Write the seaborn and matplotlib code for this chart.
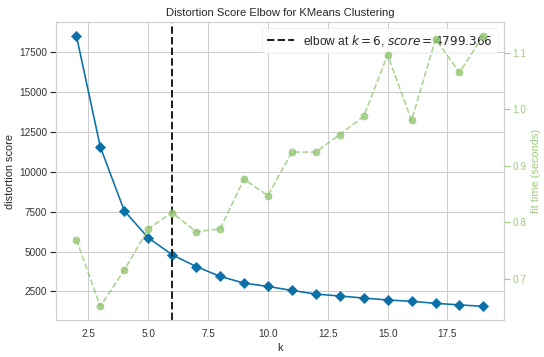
import matplotlib
matplotlib.use("Agg")
import matplotlib.pyplot as plt
import seaborn as sns
import pandas as pd

# Values
k_values = [2, 3, 4, 5, 6, 7, 8, 9, 10, 11, 12, 13, 14, 15, 16, 17, 18, 19]
distortion = [18550, 11560, 7560, 5860, 4799.366, 4060, 3440, 3020, 2810,
              2560, 2330, 2210, 2080, 1960, 1875, 1750, 1650, 1560]
fit_time = [0.769, 0.651, 0.715, 0.788, 0.817, 0.783, 0.788, 0.876, 0.847,
            0.924, 0.924, 0.955, 0.987, 1.096, 0.980, 1.124, 1.065, 1.130]
elbow_k = 6
elbow_score = 4799.366

blue = "#0b6fa8"
green = "#8fc46c"
green_text = "#9fcb7f"

sns.set_theme(style="whitegrid", rc={
    "grid.color": "#cccccc",
    "axes.edgecolor": "#d0d0d0",
    "axes.linewidth": 1.2,
})
plt.rcParams["font.family"] = ["Liberation Sans", "DejaVu Sans"]
plt.rcParams["mathtext.fontset"] = "dejavusans"

df = pd.DataFrame({"k": k_values, "distortion": distortion, "fit_time": fit_time})

fig, ax = plt.subplots(figsize=(544 / 72, 357 / 72), dpi=72)
fig.subplots_adjust(left=0.103, right=0.926, top=0.938, bottom=0.104)

sns.lineplot(data=df, x="k", y="distortion", marker="D", color=blue,
             markersize=7, markeredgecolor=blue, linewidth=1.6, ax=ax)
ax.axvline(elbow_k, color="#222222", linestyle="--", linewidth=2,
           label="elbow at $k={}$, $score={:0.3f}$".format(elbow_k, elbow_score))

ax2 = ax.twinx()
sns.lineplot(data=df, x="k", y="fit_time", marker="o", color=green,
             markersize=7, markeredgecolor=green, linestyle="--",
             linewidth=1.6, alpha=0.75, ax=ax2)
ax2.grid(False)
for s in ax2.spines.values():
    s.set_visible(False)

ax.set_title("Distortion Score Elbow for KMeans Clustering", fontsize=11.3)
ax.set_xlabel("k", fontsize=11)
ax.set_ylabel("distortion score", fontsize=11)
ax2.set_ylabel("fit time (seconds)", fontsize=11, color=green_text)
ax.tick_params(labelsize=10, colors="#333333", pad=3)
ax2.tick_params(labelsize=10, colors=green_text, pad=3)
ax2.set_yticks([0.7, 0.8, 0.9, 1.0, 1.1])

leg = ax.legend(loc="upper right", fontsize=12, frameon=True, framealpha=0.85,
                edgecolor="#eeeeee", handlelength=2.2)

fig.savefig("out.png", dpi=72)
